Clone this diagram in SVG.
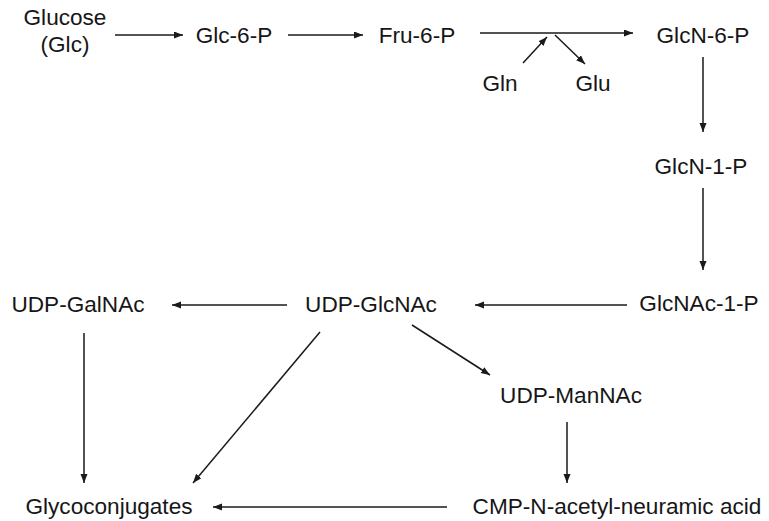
<svg xmlns="http://www.w3.org/2000/svg" width="769" height="521" viewBox="0 0 769 521">
<defs>
<style>
text{font-family:"Liberation Sans",Arial,sans-serif;font-size:22.6px;fill:#161616;text-anchor:middle}
.c line{stroke:#1a1a1a;stroke-width:1.5;marker-end:url(#ah)}
</style>
<marker id="ah" markerUnits="userSpaceOnUse" markerWidth="10" markerHeight="8" refX="9" refY="3.5" orient="auto">
<path d="M0,0 L9,3.5 L0,7 z" fill="#1a1a1a"/>
</marker>
</defs>
<rect width="769" height="521" fill="#fff"/>
<g class="c" id="connectors">
<line x1="115" y1="35" x2="183" y2="35"/>
<line x1="288" y1="35" x2="363" y2="35"/>
<line x1="480" y1="33" x2="633" y2="33"/>
<line x1="523" y1="63" x2="547" y2="37"/>
<line x1="555" y1="35" x2="585" y2="64"/>
<line x1="703" y1="57" x2="703" y2="132"/>
<line x1="703" y1="188" x2="703" y2="270"/>
<line x1="627" y1="305" x2="475" y2="305"/>
<line x1="287" y1="305" x2="172" y2="305"/>
<line x1="320" y1="332" x2="193" y2="483"/>
<line x1="84" y1="333" x2="84" y2="483"/>
<line x1="412" y1="325" x2="490" y2="375"/>
<line x1="567" y1="422" x2="567" y2="483"/>
<line x1="447" y1="507" x2="213" y2="507"/>
</g>
<g id="glucose"><text x="65" y="25">Glucose</text><text x="65" y="52">(Glc)</text></g>
<g id="glc6p"><text x="234" y="43">Glc-6-P</text></g>
<g id="fru6p"><text x="417" y="43">Fru-6-P</text></g>
<g id="glcn6p"><text x="703" y="43">GlcN-6-P</text></g>
<g id="gln"><text x="500" y="91">Gln</text></g>
<g id="glu"><text x="593" y="91">Glu</text></g>
<g id="glcn1p"><text x="701" y="174">GlcN-1-P</text></g>
<g id="glcnac1p"><text x="699" y="311">GlcNAc-1-P</text></g>
<g id="udpglcnac"><text x="371" y="312">UDP-GlcNAc</text></g>
<g id="udpgalnac"><text x="78" y="312">UDP-GalNAc</text></g>
<g id="udpmannac"><text x="571" y="403">UDP-ManNAc</text></g>
<g id="glycoconjugates"><text x="109" y="514">Glycoconjugates</text></g>
<g id="cmp"><text x="617" y="514">CMP-N-acetyl-neuramic acid</text></g>
</svg>
